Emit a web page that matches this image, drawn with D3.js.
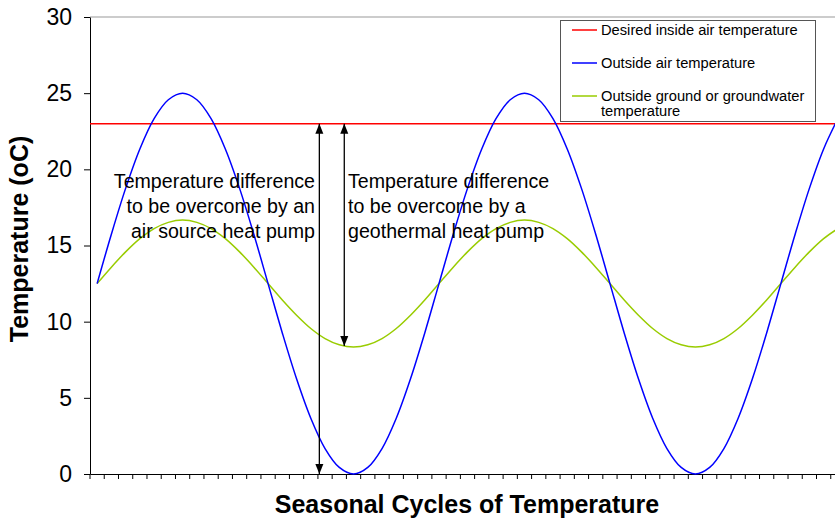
<!DOCTYPE html>
<html>
<head>
<meta charset="utf-8">
<script src="https://cdn.jsdelivr.net/npm/d3@7"></script>
<style>
    body { margin: 0; background: #fff; }
    svg { display: block; font-family: 'Liberation Sans', Arial, sans-serif; }
</style>
</head>
<body>
<svg id="chart" width="835" height="520"></svg>
<script>
'use strict';

// Category index along the seasonal axis (53 sample points, 24 per cycle)
const periods = d3.range(53);

// Outside air temperature
const airTemp = [
    12.5, 15.74, 18.75, 21.34, 23.33, 24.57, 25, 24.57, 23.33, 21.34, 18.75, 15.74,
    12.5, 9.26, 6.25, 3.66, 1.67, 0.43, 0, 0.43, 1.67, 3.66, 6.25, 9.26,
    12.5, 15.74, 18.75, 21.34, 23.33, 24.57, 25, 24.57, 23.33, 21.34, 18.75, 15.74,
    12.5, 9.26, 6.25, 3.66, 1.67, 0.43, 0, 0.43, 1.67, 3.66, 6.25, 9.26,
    12.5, 15.74, 18.75, 21.34, 23.33
];

// Ground / groundwater temperature
const groundTemp = [
    12.5, 13.58, 14.58, 15.45, 16.11, 16.52, 16.67, 16.52, 16.11, 15.45, 14.58, 13.58,
    12.5, 11.42, 10.42, 9.55, 8.89, 8.48, 8.33, 8.48, 8.89, 9.55, 10.42, 11.42,
    12.5, 13.58, 14.58, 15.45, 16.11, 16.52, 16.67, 16.52, 16.11, 15.45, 14.58, 13.58,
    12.5, 11.42, 10.42, 9.55, 8.89, 8.48, 8.33, 8.48, 8.89, 9.55, 10.42, 11.42,
    12.5, 13.58, 14.58, 15.45, 16.11
];

const desiredTemp = 23;
const yTicks = [0, 5, 10, 15, 20, 25, 30];

const legendLabels = [
    ['Desired inside air temperature'],
    ['Outside air temperature'],
    ['Outside ground or groundwater', 'temperature']
];
const seriesColors = ['#ff0000', '#0000ff', '#99cc00'];

// Arrows: [category position, from temp, to temp]
const arrows = [
    [15.6, 23, 0],
    [17.35, 23, 8.4]
];
const noteAir = ['Temperature difference', 'to be overcome by an', 'air source heat pump'];
const noteGeo = ['Temperature difference', 'to be overcome by a', 'geothermal heat pump'];

const svg = d3.select('#chart');
const plot = { left: 90, top: 17, bottom: 474, right: 845 };

const x = d3.scaleBand()
    .domain(periods)
    .range([plot.left, plot.right]);
const xPos = i => plot.left + (i + 0.5) * x.step();

const y = d3.scaleLinear()
    .domain([0, 30])
    .range([plot.bottom, plot.top]);

// top border of the plot area
svg.append('line')
    .attr('x1', plot.left).attr('x2', plot.right)
    .attr('y1', plot.top).attr('y2', plot.top)
    .attr('stroke', '#999').attr('stroke-width', 1);

/**
 * Axes
 */
const xAxis = svg.append('g')
    .attr('transform', 'translate(0,' + plot.bottom + ')')
    .call(d3.axisBottom(x).tickValues(periods).tickFormat('').tickSizeInner(5).tickSizeOuter(0));
xAxis.selectAll('.tick line').attr('transform', 'translate(' + (-x.step() / 2) + ',0)');
xAxis.select('.domain').attr('stroke', '#000');

const yAxis = svg.append('g')
    .attr('transform', 'translate(' + plot.left + ',0)')
    .call(d3.axisLeft(y).tickValues(yTicks).tickSizeInner(6).tickSizeOuter(0).tickPadding(12));
yAxis.selectAll('text')
    .style('font-size', '23px')
    .style('font-family', "'Liberation Sans', Arial, sans-serif")
    .attr('fill', '#000');

svg.append('text')
    .attr('transform', 'translate(28,239) rotate(-90)')
    .attr('text-anchor', 'middle')
    .style('font-size', '25px')
    .style('font-weight', 'bold')
    .text('Temperature (oC)');

svg.append('text')
    .attr('x', 467)
    .attr('y', 513)
    .attr('text-anchor', 'middle')
    .style('font-size', '25px')
    .style('font-weight', 'bold')
    .text('Seasonal Cycles of Temperature');

/**
 * Series
 */
const line = d3.line()
    .x((d, i) => xPos(i))
    .y(d => y(d))
    .curve(d3.curveCatmullRom);

svg.append('line')
    .attr('x1', plot.left).attr('x2', plot.right)
    .attr('y1', y(desiredTemp)).attr('y2', y(desiredTemp))
    .attr('stroke', seriesColors[0]).attr('stroke-width', 1.5);

svg.append('path')
    .datum(groundTemp)
    .attr('d', line)
    .attr('fill', 'none')
    .attr('stroke', seriesColors[2])
    .attr('stroke-width', 1.5);

svg.append('path')
    .datum(airTemp)
    .attr('d', line)
    .attr('fill', 'none')
    .attr('stroke', seriesColors[1])
    .attr('stroke-width', 1.5);

/**
 * Annotations
 */
const defs = svg.append('defs');
defs.append('marker')
    .attr('id', 'head')
    .attr('viewBox', '0 0 10 10')
    .attr('refX', 10).attr('refY', 5)
    .attr('markerWidth', 10).attr('markerHeight', 10)
    .attr('markerUnits', 'userSpaceOnUse')
    .attr('orient', 'auto-start-reverse')
    .append('path')
    .attr('d', 'M0,1 L10,5 L0,9 Z')
    .attr('fill', '#000');

svg.append('g')
    .selectAll('line')
    .data(arrows)
    .enter()
    .append('line')
    .attr('x1', d => xPos(d[0]))
    .attr('x2', d => xPos(d[0]))
    .attr('y1', d => y(d[1]))
    .attr('y2', d => y(d[2]))
    .attr('stroke', '#000')
    .attr('stroke-width', 1.3)
    .attr('marker-start', 'url(#head)')
    .attr('marker-end', 'url(#head)');

function drawNote(lines, xx, anchor) {
    svg.append('g')
        .selectAll('text')
        .data(lines)
        .enter()
        .append('text')
        .attr('x', xx)
        .attr('y', (d, i) => 188 + i * 25)
        .attr('text-anchor', anchor)
        .style('font-size', '19.6px')
        .text(d => d);
}
drawNote(noteAir, 315, 'end');
drawNote(noteGeo, 348, 'start');

/**
 * Legend
 */
const legend = svg.append('g');
legend.append('rect')
    .attr('x', 560.5).attr('y', 20.5)
    .attr('width', 255).attr('height', 101)
    .attr('fill', '#fff')
    .attr('stroke', '#555');

const rows = legend.selectAll('g.row')
    .data(legendLabels)
    .enter()
    .append('g')
    .attr('class', 'row')
    .attr('transform', (d, i) => 'translate(0,' + (30 + i * 33) + ')');

rows.append('line')
    .attr('x1', 572).attr('x2', 597)
    .attr('y1', 0).attr('y2', 0)
    .attr('stroke', (d, i) => seriesColors[i])
    .attr('stroke-width', 1.5);

rows.selectAll('text')
    .data(d => d)
    .enter()
    .append('text')
    .attr('x', 601)
    .attr('y', (d, i) => 5 + i * 15)
    .style('font-size', '14.7px')
    .text(d => d);
</script>
</body>
</html>
